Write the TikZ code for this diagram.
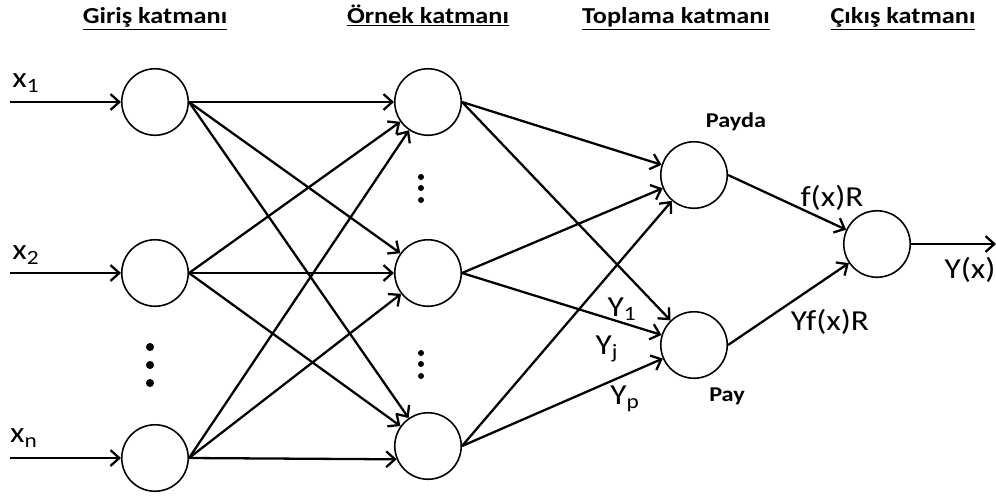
\documentclass[tikz,border=0pt]{standalone}
\usepackage{fontspec}
\setmainfont[FakeStretch=1.15]{Carlito}
\usetikzlibrary{arrows.meta}

\begin{document}
\begin{tikzpicture}[x=0.02cm,y=-0.02cm,
  neuron/.style={circle,draw,line width=0.9pt,minimum size=1.33cm,inner sep=0pt},
  conn/.style={line width=1.3pt,-{Straight Barb[length=5pt,width=9pt,line width=1.3pt]}},
  title/.style={font=\fontsize{13}{15}\selectfont\bfseries,anchor=base,inner sep=0pt},
  lbl/.style={font=\fontsize{16.5}{19}\selectfont,inner sep=0pt},
  sumlbl/.style={font=\fontsize{12}{14}\selectfont\bfseries,inner sep=0pt}]

\useasboundingbox (0,0) rectangle (996,498);

% layer titles
\node[title] (t1) at (155,23) {\underline{Giriş katmanı}};
\node[title] (t2) at (428,23) {\underline{Örnek katmanı}};
\node[title] (t3) at (676,23) {\underline{Toplama katmanı}};
\node[title] (t4) at (903,23) {\underline{Çıkış katmanı}};

% input layer
\node[neuron] (i1) at (155,102) {};
\node[neuron] (i2) at (155,273) {};
\node[neuron] (i3) at (155,458) {};
\fill (150,347) circle (2.3pt);
\fill (150,365) circle (2.3pt);
\fill (150,383) circle (2.3pt);

% pattern layer
\node[neuron] (p1) at (428,102) {};
\node[neuron] (p2) at (428,273) {};
\node[neuron] (p3) at (428,446) {};
\fill (421,177) circle (1.7pt);
\fill (421,188) circle (1.7pt);
\fill (421,200) circle (1.7pt);
\fill (421,353) circle (1.7pt);
\fill (421,364) circle (1.7pt);
\fill (421,376) circle (1.7pt);

% summation layer
\node[neuron] (s1) at (694,175) {};
\node[neuron] (s2) at (694,345) {};
\node[sumlbl] (payda) at (736,122) {Payda};
\node[sumlbl] (pay) at (727,396) {Pay};

% output layer
\node[neuron] (o) at (877,244) {};

% inputs
\coordinate (x1) at (10,102);
\coordinate (x2) at (10,273);
\coordinate (x3) at (10,458);
\coordinate (y) at (996,244);
\node[lbl] (lx1) at (26,83) {x\textsubscript{1}};
\node[lbl] (lx2) at (26,255) {x\textsubscript{2}};
\node[lbl] (lx3) at (24,438) {x\textsubscript{n}};
\draw[conn] (x1) -- (i1);
\draw[conn] (x2) -- (i2);
\draw[conn] (x3) -- (i3);

% input -> pattern
\draw[conn] (i1.east) -- (p1);
\draw[conn] (i1.east) -- (p2);
\draw[conn] (i1.east) -- (p3);
\draw[conn] (i2.east) -- (p1);
\draw[conn] (i2.east) -- (p2);
\draw[conn] (i2.east) -- (p3);
\draw[conn] (i3.east) -- (p1);
\draw[conn] (i3.east) -- (p2);
\draw[conn] (i3.east) -- (p3.203);

% pattern -> summation
\draw[conn] (p1.east) -- (s1);
\draw[conn] (p1.east) -- (s2);
\draw[conn] (p2.east) -- (s1);
\draw[conn] (p2.east) -- (s2);
\draw[conn] (p3.east) -- (s1);
\draw[conn] (p3.east) -- (s2);
\node[lbl] (y1) at (622,309) {Y\textsubscript{1}};
\node[lbl] (yj) at (607,349) {Y\textsubscript{j}};
\node[lbl] (yp) at (625,399) {Y\textsubscript{p}};

% summation -> output
\draw[conn] (s1.east) -- (o);
\draw[conn] (s2.east) -- (o);
\draw[conn] (o.east) -- (y);
\node[lbl] (fx) at (832,198) {f(x)R};
\node[lbl] (yfx) at (830,322) {Yf(x)R};
\node[lbl] (yx) at (970,270) {Y(x)};
\end{tikzpicture}
\end{document}
